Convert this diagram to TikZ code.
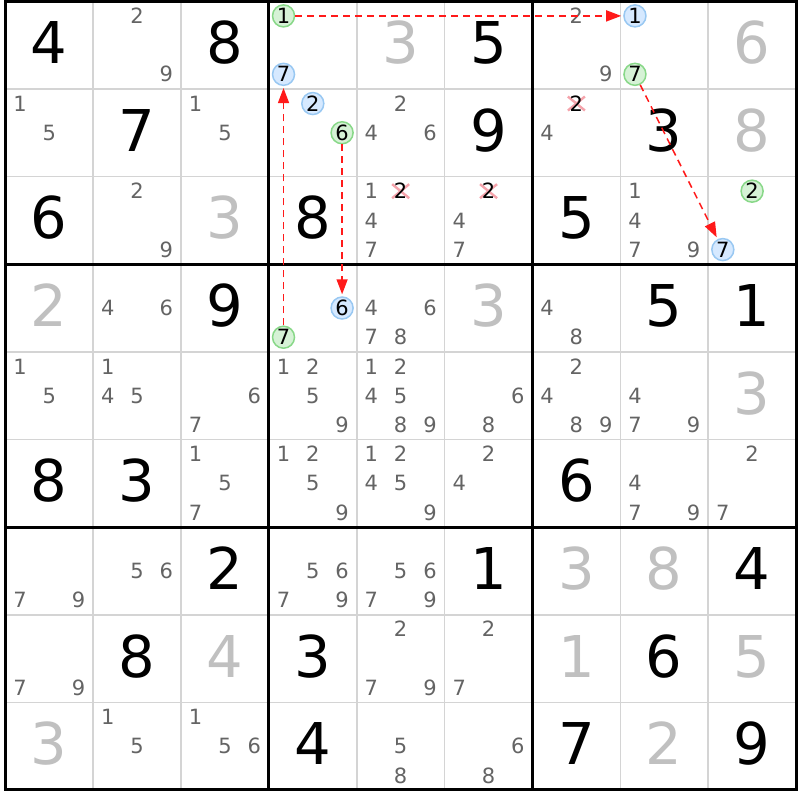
\documentclass[tikz,border=0pt]{standalone}
\usepackage{fontspec}
\setmainfont{DejaVu Sans}
\usetikzlibrary{arrows.meta}
\definecolor{candgray}{HTML}{646464}
\definecolor{solvedgray}{HTML}{C0C0C0}
\definecolor{thingrid}{HTML}{D4D4D4}
\definecolor{gfill}{HTML}{D6F2D6}
\definecolor{gline}{HTML}{88D888}
\definecolor{bfill}{HTML}{D6E9FF}
\definecolor{bline}{HTML}{99C8F2}
\definecolor{crosspink}{HTML}{F5A3AB}
\definecolor{arrowred}{HTML}{FF1A1A}
\begin{document}
\begin{tikzpicture}[x=87.86pt,y=-87.63pt,
  given/.style={inner sep=0pt, text height=42pt, text depth=0pt,
    font=\fontsize{57.6}{60}\selectfont, text=black, yshift=2.5pt},
  solved/.style={given, text=solvedgray},
  cand/.style={inner sep=0pt, text height=15.3pt, text depth=0pt,
    font=\fontsize{21}{22}\selectfont, text=candgray},
  circbase/.style={circle, inner sep=0pt, minimum size=22pt, line width=1.5pt,
    text height=15.3pt, text depth=0pt, font=\fontsize{21}{22}\selectfont, text=black},
  circg/.style={circbase, draw=gline, fill=gfill},
  circb/.style={circbase, draw=bline, fill=bfill},
  crossed/.style={inner sep=0pt, text height=15.3pt, text depth=0pt,
    font=\fontsize{21}{22}\selectfont, text=black},
  crossline/.style={draw=crosspink, line width=2.4pt},
  thingridline/.style={draw=thingrid, line width=1.6pt},
  thickgridline/.style={draw=black, line width=3pt, line cap=rect},
  chainarrow/.style={draw=arrowred, line width=1.5pt, dash pattern=on 7pt off 5pt,
    -{Triangle[length=15pt,width=11pt]}, shorten >=2pt}
]
\useasboundingbox (-5.3pt,1.3pt) rectangle (794.7pt,-798.7pt);
\fill[white] (-5.3pt,1.3pt) rectangle (794.7pt,-798.7pt);

% thin grid lines
\foreach \i in {1,2,4,5,7,8} {
  \draw[thingridline] (\i,0) -- (\i,9);
  \draw[thingridline] (0,\i) -- (9,\i);
}
% thick lines
\foreach \i in {3,6} {
  \draw[thickgridline] (\i,0) -- (\i,9);
  \draw[thickgridline] (0,\i) -- (9,\i);
}
\draw[thickgridline] (0,0) rectangle (9,9);

% given digits
\foreach \r/\c/\d in {0/0/4,0/2/8,0/5/5, 1/1/7,1/5/9,1/7/3, 2/0/6,2/3/8,2/6/5,
  3/2/9,3/7/5,3/8/1, 5/0/8,5/1/3,5/6/6, 6/2/2,6/5/1,6/8/4,
  7/1/8,7/3/3,7/7/6, 8/3/4,8/6/7,8/8/9}
  \node[given] (v-\r-\c) at (\c+0.5,\r+0.5) {\d};

% solved digits
\foreach \r/\c/\d in {0/4/3,0/8/6, 1/8/8, 2/2/3, 3/0/2,3/5/3, 4/8/3,
  6/6/3,6/7/8, 7/2/4,7/6/1,7/8/5, 8/0/3,8/7/2}
  \node[solved] (s-\r-\c) at (\c+0.5,\r+0.5) {\d};

% candidates
\foreach \r/\c/\ds in {0/1/{2,9}, 0/6/{2,9}, 1/0/{1,5}, 1/2/{1,5}, 1/4/{2,4,6},
  1/6/{4}, 2/1/{2,9}, 2/4/{1,4,7}, 2/5/{4,7}, 2/7/{1,4,7,9},
  3/1/{4,6}, 3/4/{4,6,7,8}, 3/6/{4,8},
  4/0/{1,5}, 4/1/{1,4,5}, 4/2/{6,7}, 4/3/{1,2,5,9}, 4/4/{1,2,4,5,8,9},
  4/5/{6,8}, 4/6/{2,4,8,9}, 4/7/{4,7,9},
  5/2/{1,5,7}, 5/3/{1,2,5,9}, 5/4/{1,2,4,5,9}, 5/5/{2,4}, 5/7/{4,7,9}, 5/8/{2,7},
  6/0/{7,9}, 6/1/{5,6}, 6/3/{5,6,7,9}, 6/4/{5,6,7,9},
  7/0/{7,9}, 7/4/{2,7,9}, 7/5/{2,7},
  8/1/{1,5}, 8/2/{1,5,6}, 8/4/{5,8}, 8/5/{6,8}} {
  \foreach \d in \ds {
    \pgfmathsetmacro\kx{\c+(mod(\d-1,3)+0.5)/3}
    \pgfmathsetmacro\my{\r+(floor((\d-1)/3)+0.5)/3}
    \node[cand] (c-\r-\c-\d) at (\kx,\my) {\d};
  }
}

% crossed-out candidates
\foreach \r/\c/\d in {1/6/2, 2/4/2, 2/5/2} {
  \pgfmathsetmacro\kx{\c+(mod(\d-1,3)+0.5)/3}
  \pgfmathsetmacro\my{\r+(floor((\d-1)/3)+0.5)/3}
  \coordinate (x-\r-\c-\d) at (\kx,\my);
  \draw[crossline] (x-\r-\c-\d) ++(-8.5pt,-7pt) -- ++(17pt,14pt);
  \draw[crossline] (x-\r-\c-\d) ++(-8.5pt,7pt) -- ++(17pt,-14pt);
  \node[crossed] (k-\r-\c-\d) at (x-\r-\c-\d) {\d};
}

% highlighted candidates
\foreach \st/\r/\c/\d in {g/0/3/1, b/0/3/7, b/1/3/2, g/1/3/6, b/0/7/1, g/0/7/7,
  g/2/8/2, b/2/8/7, b/3/3/6, g/3/3/7} {
  \pgfmathsetmacro\kx{\c+(mod(\d-1,3)+0.5)/3}
  \pgfmathsetmacro\my{\r+(floor((\d-1)/3)+0.5)/3}
  \node[circ\st] (\st-\r-\c-\d) at (\kx,\my) {\d};
}

% chain arrows
\draw[chainarrow] (g-0-3-1) -- (b-0-7-1);
\draw[chainarrow] (g-0-7-7) -- (b-2-8-7);
\draw[chainarrow] (g-3-3-7) -- (b-0-3-7);
\draw[chainarrow] (g-1-3-6) -- (b-3-3-6);
\end{tikzpicture}
\end{document}
